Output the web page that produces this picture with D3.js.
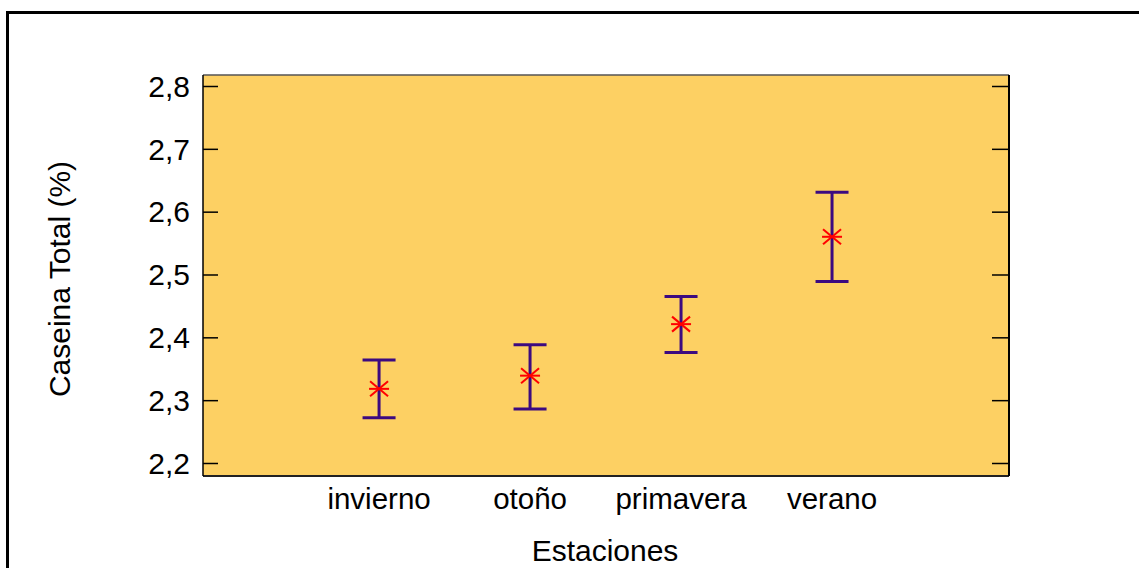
<!DOCTYPE html>
<html><head><meta charset="utf-8">
<script src="https://cdn.jsdelivr.net/npm/d3@7"></script>
<style>body{margin:0;background:#fff}svg{display:block}text{font-family:"Liberation Sans",Arial,sans-serif;fill:#000}</style>
</head><body><svg id="c" width="1139" height="568"></svg>
<script>
const categories = ["invierno","otoño","primavera","verano"];
const means = [2.318, 2.339, 2.421, 2.560];
const lowers = [2.272, 2.286, 2.376, 2.489];
const uppers = [2.364, 2.388, 2.465, 2.631];
const yTicks = [2.2,2.3,2.4,2.5,2.6,2.7,2.8];

const svg = d3.select("#c");
const L=203, R=1009, T=75, B=476;
const x = d3.scaleLinear().domain([-1.166, 4.172]).range([L, R]);
const y = d3.scaleLinear().domain([2.1793, 2.8175]).range([B, T]);

// outer frame (cropped)
svg.append("path").attr("d",`M7.5,568V12.5H1139`).attr("fill","none").attr("stroke","#000").attr("stroke-width",3);

svg.append("rect").attr("x",L).attr("y",T).attr("width",R-L).attr("height",B-T)
  .attr("fill","#FDD063").attr("stroke","none");
svg.append("line").attr("x1",L).attr("x2",R).attr("y1",T).attr("y2",T).attr("stroke","#555").attr("stroke-width",1.5);
svg.append("line").attr("x1",L).attr("x2",R).attr("y1",B).attr("y2",B).attr("stroke","#222").attr("stroke-width",2);
svg.append("line").attr("x1",L).attr("x2",L).attr("y1",T).attr("y2",B).attr("stroke","#000").attr("stroke-width",1.5);
svg.append("line").attr("x1",R).attr("x2",R).attr("y1",T).attr("y2",B).attr("stroke","#000").attr("stroke-width",2);

// y axis ticks left & right (inward)
const yl = svg.append("g").attr("transform",`translate(${L},0)`)
  .call(d3.axisRight(y).tickValues(yTicks).tickSize(15).tickFormat(""));
yl.select(".domain").remove();
yl.selectAll("line").attr("stroke","#000").attr("stroke-width",1.5);
const yr = svg.append("g").attr("transform",`translate(${R},0)`)
  .call(d3.axisLeft(y).tickValues(yTicks).tickSize(17).tickFormat(""));
yr.select(".domain").remove();
yr.selectAll("line").attr("stroke","#000").attr("stroke-width",1.5);

svg.append("g").selectAll("text").data(yTicks).join("text")
  .attr("x",190).attr("y",d=>y(d)).attr("dy","0.36em").attr("text-anchor","end")
  .style("font-size","30px").text(d=>d.toFixed(1).replace(".",","));

svg.append("g").selectAll("text").data(categories).join("text")
  .attr("x",(d,i)=>x(i)).attr("y",509).attr("text-anchor","middle")
  .style("font-size","29.5px").text(d=>d);

svg.append("text").attr("x",605).attr("y",561).attr("text-anchor","middle")
  .style("font-size","30px").text("Estaciones");
svg.append("text").attr("transform","translate(70,279) rotate(-90)").attr("text-anchor","middle")
  .style("font-size","30px").text("Caseina Total (%)");

// error bars
const eb = svg.append("g").attr("stroke","#3C0A80").attr("stroke-width",3);
categories.forEach((c,i)=>{
  const cx=x(i);
  eb.append("line").attr("x1",cx).attr("x2",cx).attr("y1",y(uppers[i])).attr("y2",y(lowers[i]));
  eb.append("line").attr("x1",cx-16.5).attr("x2",cx+16.5).attr("y1",y(uppers[i])).attr("y2",y(uppers[i]));
  eb.append("line").attr("x1",cx-16.5).attr("x2",cx+16.5).attr("y1",y(lowers[i])).attr("y2",y(lowers[i]));
});
const st = svg.append("g").attr("stroke","#FF0000").attr("stroke-width",2);
categories.forEach((c,i)=>{
  const cx=x(i), cy=y(means[i]);
  st.append("line").attr("x1",cx-10).attr("x2",cx+10).attr("y1",cy).attr("y2",cy);
  st.append("line").attr("x1",cx-9).attr("x2",cx+9).attr("y1",cy-7.5).attr("y2",cy+7.5);
  st.append("line").attr("x1",cx-9).attr("x2",cx+9).attr("y1",cy+7.5).attr("y2",cy-7.5);
});
</script></body></html>
